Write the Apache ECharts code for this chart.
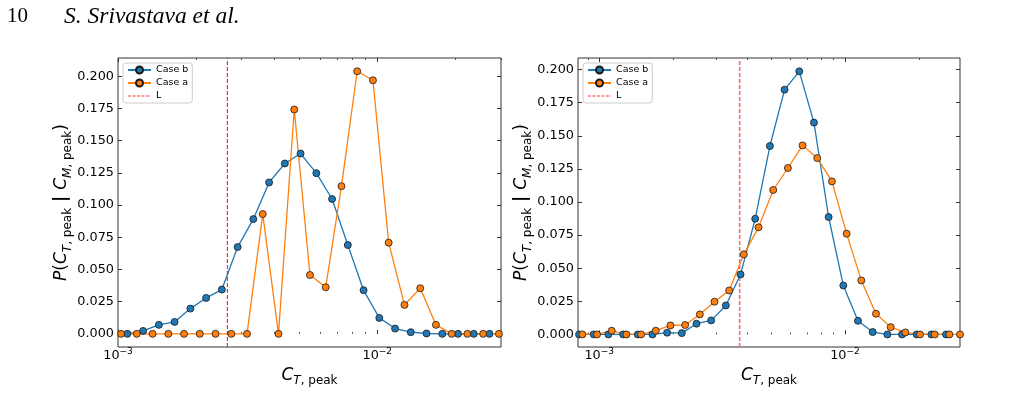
<!DOCTYPE html>
<html><head><meta charset="utf-8">
<script src="https://cdn.jsdelivr.net/npm/echarts@6/dist/echarts.min.js"></script>
<style>html,body{margin:0;padding:0;background:#fff}#c{width:1021px;height:413px}</style>
</head><body><div id="c"></div>
<script>
// ---------- data ----------
const leftCaseBX = [1.086e-3,1.249e-3,1.437e-3,1.652e-3,1.901e-3,2.186e-3,2.514e-3,2.892e-3,3.326e-3,3.825e-3,4.399e-3,5.058e-3,5.819e-3,6.692e-3,7.696e-3,8.851e-3,1.018e-2,1.171e-2,1.346e-2,1.548e-2,1.781e-2,2.048e-2,2.355e-2,2.709e-2];
const leftCaseBY = [0,0.0023,0.007,0.0093,0.0196,0.0279,0.0344,0.0674,0.0891,0.1176,0.1323,0.140,0.1248,0.1047,0.069,0.0339,0.0124,0.0041,0.0013,0.0003,0,0,0,0];
const leftCaseAX = [1.027e-3,1.181e-3,1.359e-3,1.563e-3,1.797e-3,2.067e-3,2.377e-3,2.734e-3,3.144e-3,3.615e-3,4.158e-3,4.782e-3,5.499e-3,6.324e-3,7.273e-3,8.365e-3,9.621e-3,1.106e-2,1.273e-2,1.464e-2,1.683e-2,1.936e-2,2.226e-2,2.561e-2,2.945e-2];
const leftCaseAY = [0,0,0,0,0,0,0,0,0,0.093,0,0.1742,0.0457,0.0362,0.1147,0.2039,0.1969,0.0708,0.0225,0.0354,0.007,0,0,0,0];
const leftL = 2.64e-3;

const rightCaseBX = [8.282e-4,9.503e-4,1.0904e-3,1.2513e-3,1.4358e-3,1.6475e-3,1.8905e-3,2.1693e-3,2.4892e-3,2.8563e-3,3.2775e-3,3.7608e-3,4.3154e-3,4.9518e-3,5.682e-3,6.5199e-3,7.4814e-3,8.5846e-3,9.8505e-3,1.1303e-2,1.297e-2,1.4883e-2,1.7077e-2,1.9596e-2,2.2486e-2,2.5802e-2];
const rightCaseBY = [0,0,0,0,0,0,0.0013,0.001,0.0081,0.0106,0.0219,0.0453,0.0874,0.1423,0.1849,0.1987,0.160,0.0887,0.037,0.0103,0.0018,0,0,0,0,0];
const rightCaseAX = [8.542e-4,9.802e-4,1.1248e-3,1.2906e-3,1.481e-3,1.6994e-3,1.95e-3,2.2376e-3,2.5676e-3,2.9462e-3,3.3807e-3,3.8793e-3,4.4514e-3,5.1078e-3,5.8611e-3,6.7254e-3,7.7172e-3,8.8553e-3,1.0161e-2,1.166e-2,1.3379e-2,1.5352e-2,1.7616e-2,2.0214e-2,2.3196e-2,2.6616e-2,2.94e-2];
const rightCaseAY = [0,0,0.0028,0,0,0.0028,0.0068,0.0071,0.0151,0.0247,0.0332,0.0605,0.0809,0.1091,0.1257,0.1428,0.1332,0.1156,0.0761,0.0408,0.0156,0.0055,0.0015,0,0,0,0];
const rightL = 3.73e-3;

const yTickValues = [0,0.025,0.05,0.075,0.1,0.125,0.15,0.175,0.2];
const xMajorTicks = [1e-3,1e-2];
const leftXMinorTicks = [2e-3,3e-3,4e-3,5e-3,6e-3,7e-3,8e-3,9e-3,2e-2,3e-2];
const rightXMinorTicks = [9e-4,2e-3,3e-3,4e-3,5e-3,6e-3,7e-3,8e-3,9e-3,2e-2];
const seriesNames = ['Case b','Case a','L'];

// ---------- styling ----------
const BLUE = '#1f77b4', ORANGE = '#ff7f0e', FRAME = '#333';
const FONT = 'DejaVu Sans';
const LEGEND_L = '#f07a7a';
const pairs = (xs, ys) => xs.map((x, i) => [x, ys[i]]);

const grids = [
  {left:118, top:58, width:383, height:289, xmin:0.9995e-3, xmax:3.0e-2, ymin:-0.0102, ymax:0.2142, minor:leftXMinorTicks, Lcolor:'#d81818', Lwidth:1, Lval:leftL,
   bx:leftCaseBX, by:leftCaseBY, ax:leftCaseAX, ay:leftCaseAY},
  {left:578, top:58, width:382, height:289, xmin:8.2e-4, xmax:2.94e-2, ymin:-0.0095, ymax:0.2088, minor:rightXMinorTicks, Lcolor:'#f07070', Lwidth:1.6, Lval:rightL,
   bx:rightCaseBX, by:rightCaseBY, ax:rightCaseAX, ay:rightCaseAY}
];

const xRich = {
  b:{fontSize:12.8, fontFamily:FONT, color:'#000', lineHeight:13, verticalAlign:'bottom'},
  s:{fontSize:9, fontFamily:FONT, color:'#000', lineHeight:9, padding:[0,0,6,0], verticalAlign:'bottom'}
};
const nameRich = {
  i:{fontSize:17, fontFamily:FONT, fontStyle:'italic', color:'#000', lineHeight:17, padding:[0,0,3,0], verticalAlign:'bottom'},
  r:{fontSize:17, fontFamily:FONT, color:'#000', lineHeight:17, padding:[0,0,3,0], verticalAlign:'bottom'},
  bar:{fontSize:17, fontFamily:FONT, fontWeight:'bold', color:'#000', lineHeight:17, padding:[0,0,3,0], verticalAlign:'bottom'},
  si:{fontSize:12, fontFamily:FONT, fontStyle:'italic', color:'#000', lineHeight:12, verticalAlign:'bottom'},
  s:{fontSize:12, fontFamily:FONT, color:'#000', lineHeight:12, verticalAlign:'bottom'}
};
const xName = '{i|C}{si|T}{s|, peak}';
const yName = '{i|P}{r|(}{i|C}{si|T}{s|, peak}{bar| | }{i|C}{si|M}{s|, peak}{r|)}';

const gridOpts = [], xAxes = [], yAxes = [], series = [], legends = [];
grids.forEach((g, gi) => {
  gridOpts.push({left:g.left, top:g.top, width:g.width, height:g.height, show:true, borderColor:FRAME, borderWidth:1, backgroundColor:'transparent'});
  const base = {type:'log', logBase:10, gridIndex:gi, min:g.xmin, max:g.xmax, axisLine:{show:false}, splitLine:{show:false}, minorTick:{show:false}};
  const xi = xAxes.length;
  xAxes.push(Object.assign({}, base, {position:'bottom',
    axisTick:{inside:true, length:4, customValues:xMajorTicks, lineStyle:{color:FRAME, width:1}},
    axisLabel:{customValues:xMajorTicks, margin:2, formatter:v => '{b|10}{s|\u2212' + Math.round(-Math.log10(v)) + '}', rich:xRich},
    name:xName, nameLocation:'middle', nameGap:22, nameTextStyle:{rich:nameRich}}));
  xAxes.push(Object.assign({}, base, {position:'bottom', axisTick:{inside:true, length:2, customValues:g.minor, lineStyle:{color:FRAME, width:0.8}}, axisLabel:{show:false}}));
  xAxes.push(Object.assign({}, base, {position:'top', axisTick:{inside:true, length:4, customValues:xMajorTicks, lineStyle:{color:FRAME, width:1}}, axisLabel:{show:false}}));
  xAxes.push(Object.assign({}, base, {position:'top', axisTick:{inside:true, length:2, customValues:g.minor, lineStyle:{color:FRAME, width:0.8}}, axisLabel:{show:false}}));
  const yb = {type:'value', gridIndex:gi, min:g.ymin, max:g.ymax, axisLine:{show:false}, splitLine:{show:false}};
  const yi = yAxes.length;
  yAxes.push(Object.assign({}, yb, {position:'left',
    axisTick:{inside:true, length:4, customValues:yTickValues, lineStyle:{color:FRAME, width:1}},
    axisLabel:{customValues:yTickValues, margin:4, fontSize:12.8, fontFamily:FONT, color:'#000', formatter:v => v.toFixed(3)},
    name:yName, nameLocation:'middle', nameRotate:90, nameGap:43, nameTextStyle:{rich:nameRich}}));
  yAxes.push(Object.assign({}, yb, {position:'right', axisTick:{inside:true, length:4, customValues:yTickValues, lineStyle:{color:FRAME, width:1}}, axisLabel:{show:false}}));

  const lineSeries = (name, data, color) => ({
    type:'line', name, xAxisIndex:xi, yAxisIndex:yi, data, color,
    symbol:'circle', symbolSize:7, showSymbol:true, clip:true, animation:false,
    lineStyle:{color, width:1.3},
    itemStyle:{color, borderColor:'#1a1a1a', borderWidth:0.8},
    emphasis:{disabled:true}
  });
  series.push(lineSeries(seriesNames[0], pairs(g.bx, g.by), BLUE));
  series.push(lineSeries(seriesNames[1], pairs(g.ax, g.ay), ORANGE));
  // vertical reference line L spanning the full y range of the axis
  series.push({type:'line', name:seriesNames[2], xAxisIndex:xi, yAxisIndex:yi,
    data:[[g.Lval, g.ymin], [g.Lval, g.ymax]], symbol:'none', color:g.Lcolor, animation:false,
    lineStyle:{color:g.Lcolor, type:[4,2], width:g.Lwidth}, emphasis:{disabled:true}});

  legends.push({left:g.left + 5, top:g.top + 5, orient:'vertical',
    data:[
      {name:seriesNames[0]},
      {name:seriesNames[1]},
      {name:seriesNames[2], itemStyle:{opacity:0}, lineStyle:{color:LEGEND_L, type:[3,1.5], width:1.4}}
    ],
    itemWidth:23, itemHeight:8.75, itemGap:3, padding:[2,4,2,4],
    borderColor:'#cccccc', borderWidth:1, borderRadius:3, backgroundColor:'rgba(255,255,255,0.8)',
    selectedMode:false, textStyle:{fontSize:9.5, fontFamily:FONT, color:'#000'}});
});

const chart = echarts.init(document.getElementById('c'), null, {renderer:'canvas'});
chart.setOption({
  animation:false,
  grid:gridOpts, xAxis:xAxes, yAxis:yAxes, series, legend:legends,
  graphic:[
    {type:'text', left:7, top:6, style:{text:'10', font:'21px "Liberation Serif"', fill:'#000'}},
    {type:'text', left:64, top:5, style:{text:'S. Srivastava et al.', font:'italic 23.5px "Liberation Serif"', fill:'#000'}}
  ]
});
</script></body></html>
